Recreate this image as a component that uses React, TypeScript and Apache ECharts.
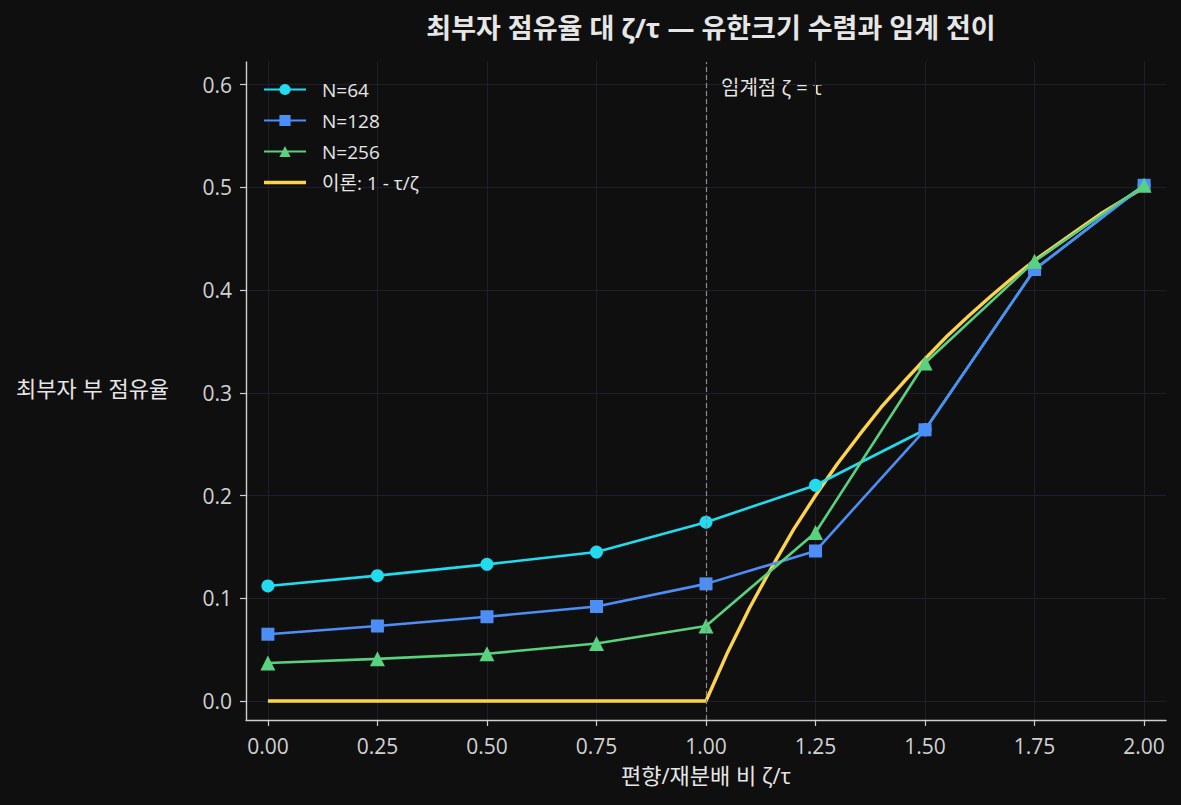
import { useEffect, useRef } from 'react';
import * as echarts from 'echarts';

// ζ/τ 값 (x축)
const ratios = [0, 0.25, 0.5, 0.75, 1.0, 1.25, 1.5, 1.75, 2.0];

// 유한크기 시뮬레이션 결과
const shareN64 = [0.112, 0.122, 0.133, 0.145, 0.174, 0.210, 0.264, 0.420, 0.502];
const shareN128 = [0.065, 0.073, 0.082, 0.092, 0.114, 0.146, 0.264, 0.420, 0.502];
const shareN256 = [0.037, 0.041, 0.046, 0.056, 0.073, 0.164, 0.329, 0.428, 0.502];

// 이론 곡선 1 - τ/ζ (그림에서 읽은 점)
const theoryX = [0, 1.0, 1.05, 1.1, 1.15, 1.2, 1.25, 1.3, 1.35, 1.4, 1.45, 1.5, 1.55, 1.6, 1.65, 1.7, 1.75, 1.8, 1.85, 1.9, 1.95, 2.0];
const theoryY = [0, 0, 0.048, 0.091, 0.130, 0.167, 0.200, 0.231, 0.259, 0.286, 0.310, 0.333, 0.355, 0.375, 0.394, 0.412, 0.429, 0.444, 0.459, 0.474, 0.487, 0.500];

// 눈금
const xTicks = [0, 0.25, 0.5, 0.75, 1.0, 1.25, 1.5, 1.75, 2.0];
const yTicks = [0, 0.1, 0.2, 0.3, 0.4, 0.5, 0.6];

const FONT = '"Open Sans", "Noto Sans CJK KR", sans-serif';
const COLORS = {
    bg: '#0f0f0f',
    text: '#e6e6e6',
    tick: '#d2d2d2',
    spine: '#cfcfcf',
    grid: '#1e1e2c',
    n64: '#22dbef',
    n128: '#4d8ef6',
    n256: '#58d27f',
    theory: '#fdd34e'
};

// 범례용 굵은 선 아이콘
const THICK_LINE_ICON = 'path://M0,0L42,0L42,3.4L0,3.4Z';

const App = () => {
    const chartRef = useRef<HTMLDivElement>(null);

    useEffect(() => {
        document.body.style.margin = '0';
        document.body.style.background = COLORS.bg;
        if (!chartRef.current) return;
        const chart = echarts.init(chartRef.current, null, { renderer: 'svg' });

        const pairs = (xs: number[], ys: number[]) => xs.map((x, i) => [x, ys[i]]);

        const option: echarts.EChartsOption = {
            animation: false,
            backgroundColor: COLORS.bg,
            textStyle: { fontFamily: FONT },
            title: {
                text: '최부자 점유율 대 ζ/τ — 유한크기 수렴과 임계 전이',
                left: 706,
                top: 9,
                textAlign: 'center',
                textStyle: { color: COLORS.text, fontSize: 27, fontWeight: 'bold', fontFamily: FONT }
            },
            grid: { left: 246, right: 15, top: 62, bottom: 85 },
            legend: {
                orient: 'vertical',
                left: 263,
                top: 80,
                padding: 0,
                itemWidth: 42,
                itemHeight: 14,
                itemGap: 12,
                textStyle: { color: COLORS.text, fontSize: 19, fontFamily: FONT, padding: [0, 0, 0, 11] },
                data: ['N=64', 'N=128', 'N=256', { name: '이론: 1 - τ/ζ', icon: THICK_LINE_ICON }]
            },
            xAxis: {
                type: 'value',
                min: -0.05,
                max: 2.05,
                name: '편향/재분배 비 ζ/τ',
                nameLocation: 'middle',
                nameGap: 44,
                nameTextStyle: { color: COLORS.text, fontSize: 22, fontFamily: FONT },
                axisLine: { show: true, onZero: false, lineStyle: { color: COLORS.spine, width: 1.4 } },
                axisTick: { show: true, length: 6, customValues: xTicks, lineStyle: { color: COLORS.spine, width: 1.2 } },
                axisLabel: {
                    customValues: xTicks,
                    margin: 15,
                    color: COLORS.tick,
                    fontSize: 21,
                    fontFamily: FONT,
                    formatter: (v: number) => v.toFixed(2)
                },
                splitLine: { show: true, lineStyle: { color: COLORS.grid, width: 1 } }
            },
            yAxis: {
                type: 'value',
                min: -0.0185,
                max: 0.622,
                axisLine: { show: true, onZero: false, lineStyle: { color: COLORS.spine, width: 1.4 } },
                axisTick: { show: true, length: 6, customValues: yTicks, lineStyle: { color: COLORS.spine, width: 1.2 } },
                axisLabel: {
                    customValues: yTicks,
                    margin: 14,
                    color: COLORS.tick,
                    fontSize: 21,
                    fontFamily: FONT,
                    formatter: (v: number) => v.toFixed(1)
                },
                splitLine: { show: true, lineStyle: { color: COLORS.grid, width: 1 } }
            },
            graphic: [
                {
                    type: 'text',
                    left: 16,
                    top: 377,
                    style: { text: '최부자 부 점유율', fill: COLORS.text, fontSize: 22, fontFamily: FONT }
                },
                {
                    type: 'text',
                    left: 721,
                    top: 77,
                    style: { text: '임계점 ζ = τ', fill: COLORS.text, fontSize: 20, fontFamily: FONT }
                }
            ],
            series: [
                {
                    name: '이론: 1 - τ/ζ',
                    type: 'line',
                    data: pairs(theoryX, theoryY),
                    symbol: 'none',
                    z: 1,
                    lineStyle: { color: COLORS.theory, width: 3.4 },
                    itemStyle: { color: COLORS.theory },
                    markLine: {
                        silent: true,
                        symbol: 'none',
                        label: { show: false },
                        lineStyle: { color: '#8a8a94', type: [5, 3], width: 1.2 },
                        data: [{ xAxis: 1.0 }]
                    }
                },
                {
                    name: 'N=64',
                    type: 'line',
                    data: pairs(ratios, shareN64),
                    symbol: 'circle',
                    symbolSize: 13,
                    z: 2,
                    lineStyle: { color: COLORS.n64, width: 2.6 },
                    itemStyle: { color: COLORS.n64 }
                },
                {
                    name: 'N=128',
                    type: 'line',
                    data: pairs(ratios, shareN128),
                    symbol: 'rect',
                    symbolSize: 13,
                    z: 3,
                    lineStyle: { color: COLORS.n128, width: 2.6 },
                    itemStyle: { color: COLORS.n128 }
                },
                {
                    name: 'N=256',
                    type: 'line',
                    data: pairs(ratios, shareN256),
                    symbol: 'triangle',
                    symbolSize: 15,
                    z: 4,
                    lineStyle: { color: COLORS.n256, width: 2.6 },
                    itemStyle: { color: COLORS.n256 }
                }
            ]
        };

        chart.setOption(option);
        return () => {
            chart.dispose();
        };
    }, []);

    return <div ref={chartRef} style={{ width: '1181px', height: '805px' }} />;
};

export default App;
